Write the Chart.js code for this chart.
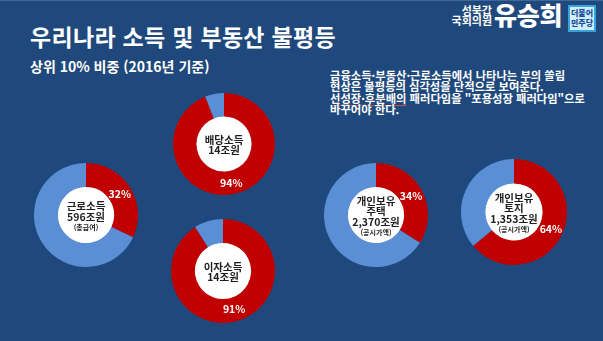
<!DOCTYPE html>
<html lang="ko">
<head>
<meta charset="utf-8">
<script src="https://cdn.jsdelivr.net/npm/chart.js@4"></script>
<style>
  html, body { margin:0; padding:0; }
  body { width:603px; height:341px; background:#1f497d; position:relative; overflow:hidden;
         font-family:"Noto Sans CJK KR","Noto Sans",sans-serif; color:#fff; }
  .topline { position:absolute; left:0; top:0; width:603px; height:1px; background:#3d6898; }
  .t { position:absolute; white-space:nowrap; }
  #title { left:30px; top:23px; font-size:23px; line-height:26px; font-weight:700; letter-spacing:0.3px; }
  #sub { left:30px; top:58px; font-size:14px; line-height:16px; font-weight:700; }
  .note { left:330px; font-size:11.3px; line-height:12px; font-weight:700; }
  .logo-s { right:111px; font-size:11px; line-height:11px; font-weight:700; text-align:right; }
  #name { left:494px; top:0px; font-size:25px; line-height:28px; font-weight:900; letter-spacing:-0.3px; }
  #party { left:568px; top:5px; width:24px; height:22px; border:2px solid #35a4dc; background:#cfeefa;
           color:#1c4f9c; font-size:8px; line-height:10px; font-weight:900; text-align:center; padding-top:1px; }
  .chartbox { position:absolute; }
  .ul { text-decoration: underline; text-decoration-color:#c0504d; text-underline-offset:2px; }
</style>
</head>
<body>
<div class="topline"></div>
<div id="title" class="t">우리나라 소득 및 부동산 불평등</div>
<div id="sub" class="t">상위 10% 비중 (2016년 기준)</div>

<div class="t note" style="top:69px">금융소득·부동산·근로소득에서 나타나는 부의 쏠림</div>
<div class="t note" style="top:80px">현상은 불평등의 심각성을 단적으로 보여준다.</div>
<div class="t note" style="top:92px"><span class="ul">선성장·후분배의</span> 패러다임을 "포용성장 패러다임"으로</div>
<div class="t note" style="top:103px">바꾸어야 한다.</div>

<div class="t logo-s" style="top:5px">성북갑</div>
<div class="t logo-s" style="top:15px">국회의원</div>
<div id="name" class="t">유승희</div>
<div id="party" class="t">더불어<br>민주당</div>

<div id="charts"></div>

<script>
// ---- data ----
const categories = ['근로소득', '배당소득', '이자소득', '개인보유 주택', '개인보유 토지'];
const top10Share = [32, 94, 91, 34, 64];
const restShare  = [68, 6, 9, 66, 36];
const centerLines = [
  ['근로소득', '596조원'],
  ['배당소득', '14조원'],
  ['이자소득', '14조원'],
  ['개인보유', '주택', '2,370조원'],
  ['개인보유', '토지', '1,353조원']
];
const centerNotes = ['(총급여)', '', '', '(공시가액)', '(공시가액)'];

// ---- layout (not data) ----
const layout = [
  { cx: 86,  cy: 215, r: 52 },
  { cx: 224, cy: 144, r: 51 },
  { cx: 223, cy: 271, r: 52 },
  { cx: 376, cy: 215, r: 52 },
  { cx: 514, cy: 212, r: 53 }
];

const RED = '#c00000';
const BLUE = '#5a8fd6';
const FONT = '"Noto Sans CJK KR", "Noto Sans", sans-serif';

const donutPlugin = {
  id: 'donutDeco',
  beforeDatasetsDraw(chart) {
    const arc = chart.getDatasetMeta(0).data[0];
    const ctx = chart.ctx;
    ctx.save();
    ctx.beginPath();
    ctx.arc(arc.x, arc.y, arc.innerRadius + 0.5, 0, Math.PI * 2);
    ctx.fillStyle = '#ffffff';
    ctx.fill();
    ctx.restore();
  },
  afterDatasetsDraw(chart) {
    const i = chart.options.plugins.donutDeco.index;
    const meta = chart.getDatasetMeta(0);
    const arc = meta.data[0];
    const ctx = chart.ctx;
    ctx.save();
    const p = arc.getCenterPoint();
    ctx.fillStyle = '#ffffff';
    ctx.font = '700 10.5px ' + FONT;
    ctx.textAlign = 'center';
    ctx.textBaseline = 'middle';
    ctx.fillText(chart.data.datasets[0].data[0] + '%', p.x, p.y);
    const lines = centerLines[i];
    const note = centerNotes[i];
    const lh = 10.5;
    const total = lines.length * lh + (note ? 9 : 0);
    let y = arc.y - total / 2 + lh / 2 + 1;
    ctx.fillStyle = '#1e1e1e';
    ctx.font = '700 10.5px ' + FONT;
    lines.forEach(l => { ctx.fillText(l, arc.x, y); y += lh; });
    if (note) {
      ctx.font = '700 7px ' + FONT;
      ctx.fillText(note, arc.x, y);
    }
    ctx.restore();
  }
};

const holder = document.getElementById('charts');
categories.forEach((cat, i) => {
  const L = layout[i];
  const box = document.createElement('div');
  box.className = 'chartbox';
  box.style.left = (L.cx - L.r) + 'px';
  box.style.top = (L.cy - L.r) + 'px';
  const cv = document.createElement('canvas');
  cv.width = L.r * 2; cv.height = L.r * 2;
  cv.style.width = (L.r * 2) + 'px'; cv.style.height = (L.r * 2) + 'px';
  box.appendChild(cv);
  holder.appendChild(box);
  new Chart(cv, {
    type: 'doughnut',
    data: {
      labels: ['상위 10%', '나머지'],
      datasets: [{
        data: [top10Share[i], restShare[i]],
        backgroundColor: [RED, BLUE],
        borderWidth: 0
      }]
    },
    options: {
      responsive: false,
      animation: false,
      cutout: '54%',
      layout: { padding: 0 },
      plugins: {
        legend: { display: false },
        tooltip: { enabled: false },
        title: { display: false, text: cat },
        donutDeco: { index: i }
      }
    },
    plugins: [donutPlugin]
  });
});
</script>
</body>
</html>
